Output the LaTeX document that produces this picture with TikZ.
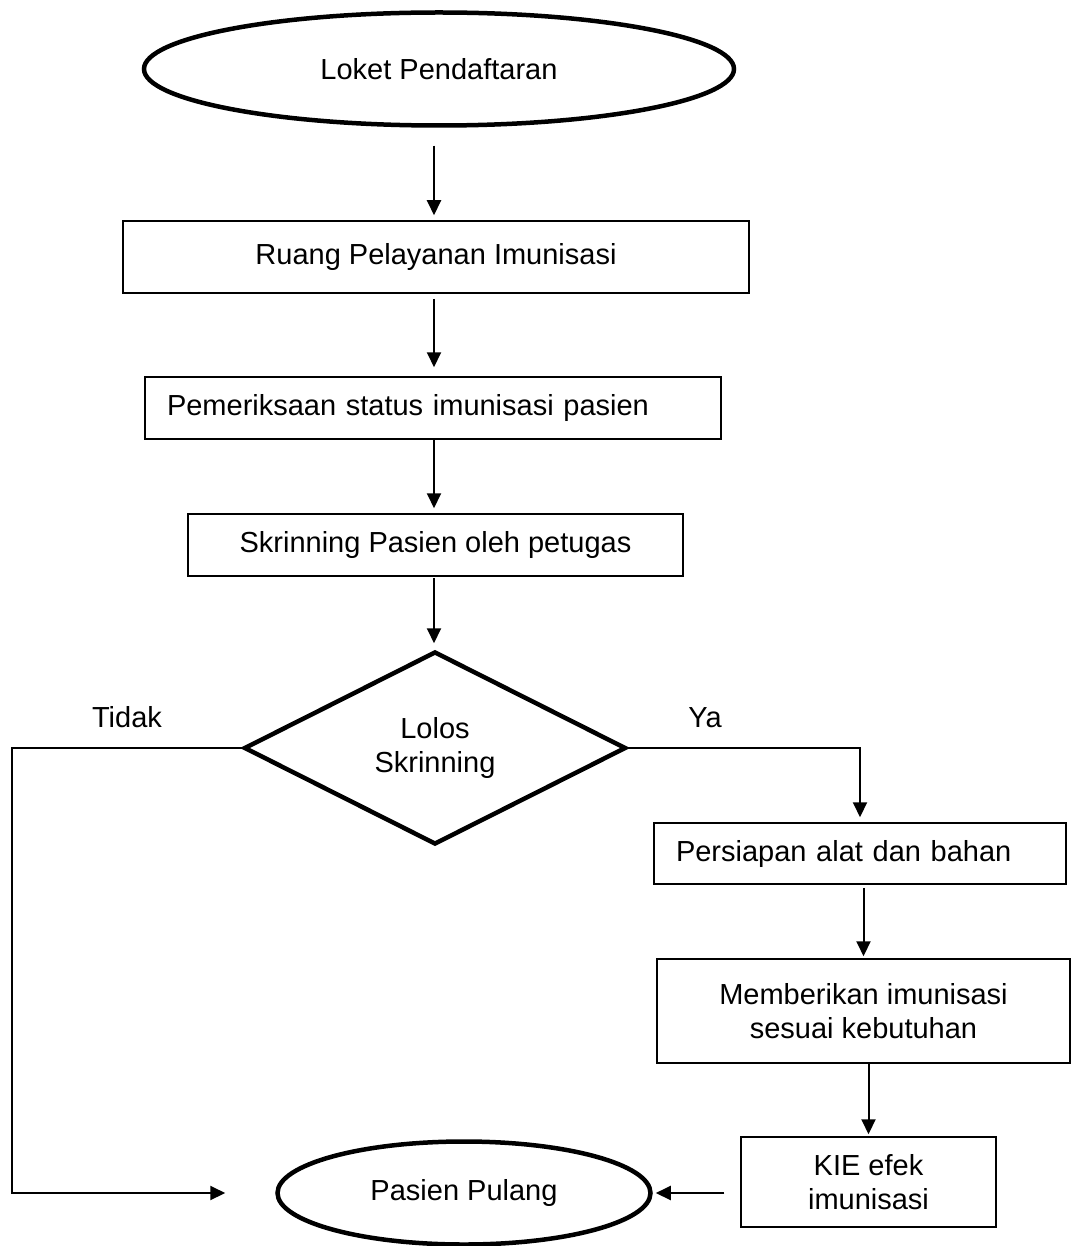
\documentclass[tikz,border=0pt]{standalone}
\usepackage{fontspec}
\setmainfont{Liberation Sans}
\usetikzlibrary{shapes.geometric,arrows.meta}
\begin{document}
\begin{tikzpicture}[x=1pt,y=-1pt,
  every node/.style={font=\fontsize{29}{34}\selectfont},
  terminal/.style={ellipse, draw, line width=4.5pt, inner sep=0pt},
  stepbox/.style={rectangle, draw, line width=1.5pt, inner sep=0pt, align=center},
  leftbox/.style={rectangle, draw, line width=1.5pt, inner xsep=22pt, inner ysep=0pt, align=left},
  decision/.style={diamond, draw, line width=4.5pt, inner sep=0pt, align=center},
  flow/.style={line width=2pt, -{Triangle[length=15pt,width=14pt]}},
  ]
\useasboundingbox (0,0) rectangle (1071,1246);

% main column
\node[terminal, minimum width=590pt, minimum height=113pt] (loket) at (439,69) {Loket Pendaftaran};
\node[stepbox, minimum width=626pt, minimum height=72pt] (ruang) at (436,257) {Ruang Pelayanan Imunisasi};
\node[leftbox, text width=532pt, minimum height=62pt] (periksa) at (433,408) {Pemeriksaan status imunisasi pasien};
\node[stepbox, minimum width=495pt, minimum height=62pt] (skrin) at (435.5,545) {Skrinning Pasien oleh petugas};
\node[decision, minimum width=382pt, minimum height=193pt] (lolos) at (435,748) {Lolos\\Skrinning};

% branch labels
\node[anchor=base] (tidak) at (127,727) {Tidak};
\node[anchor=base] (ya) at (705,727) {Ya};

% right column
\node[leftbox, text width=368pt, minimum height=61pt] (persiapan) at (860,853.5) {Persiapan alat dan bahan};
\node[stepbox, minimum width=413pt, minimum height=104pt] (memberi) at (863.5,1011) {Memberikan imunisasi\\sesuai kebutuhan};
\node[stepbox, minimum width=255pt, minimum height=90pt] (kie) at (868.5,1182) {KIE efek\\imunisasi};

% end
\node[terminal, minimum width=373pt, minimum height=103pt] (pulang) at (464,1193) {Pasien Pulang};

% connectors
\coordinate (spine) at (434,0);
\coordinate (tidakx) at (12,0);
\draw[flow, shorten <=18pt, shorten >=5pt] (loket.south -| spine) -- (ruang.north -| spine);
\draw[flow, shorten <=5pt, shorten >=9pt] (ruang.south -| spine) -- (periksa.north -| spine);
\draw[flow, shorten >=5pt] (periksa.south -| spine) -- (skrin.north -| spine);
\draw[flow, shorten <=1pt, shorten >=6pt] (skrin.south -| spine) -- (lolos.north -| spine);
\draw[flow, shorten >=5pt] (lolos.east) -| (persiapan.north);
\draw[flow, shorten <=3pt, shorten >=2pt] (persiapan.south -| memberi.north) -- (memberi.north);
\draw[flow, shorten >=2pt] (memberi.south -| kie.north) -- (kie.north);
\draw[flow, shorten <=16pt, shorten >=3pt] (kie.west |- pulang.east) -- (pulang.east);
\draw[flow, shorten >=50pt] (lolos.west) -- (lolos.west -| tidakx) |- (pulang.west);
\end{tikzpicture}
\end{document}
